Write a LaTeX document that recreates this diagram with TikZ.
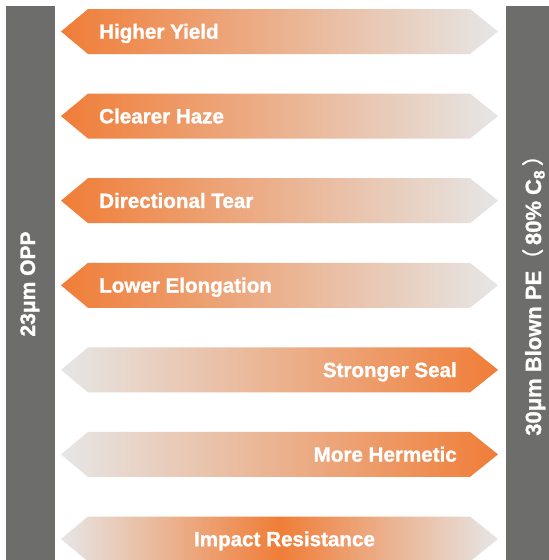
\documentclass[tikz,border=0pt]{standalone}
\usepackage{fontspec}
\setmainfont{Liberation Sans}
\newfontfamily\heavy[FakeBold=1.2]{Liberation Sans Bold}
\newfontfamily\cjk[FakeBold=1.2]{Noto Sans CJK SC}
\definecolor{orangeC}{RGB}{240,125,55}
\definecolor{fadeG}{RGB}{230,230,230}
\definecolor{barG}{RGB}{109,110,108}
\newcommand\hexrow[1]{(61,#1) -- (88,#1-22.5) -- (470,#1-22.5) -- (498,#1) -- (470,#1+22.5) -- (88,#1+22.5) -- cycle}
\begin{document}
\begin{tikzpicture}[x=1pt,y=-1pt,
 bar/.style={fill=barG,draw=none,inner sep=0pt},
 toleft/.style={left color=orangeC,right color=fadeG,draw=none},
 toright/.style={left color=fadeG,right color=orangeC,draw=none},
 tomid/.style={left color=fadeG,right color=fadeG,middle color=orangeC,draw=none},
 lbl/.style={text=white,font=\fontsize{20.6}{24}\selectfont\heavy,inner sep=0pt},
 vlbl/.style={text=white,inner sep=0pt,rotate=90,anchor=base}]
\useasboundingbox (0,0) rectangle (549,560);
\fill[white] (0,0) rectangle (549,560);
% side bars
\node[bar,minimum width=49,minimum height=560,anchor=north west] (lbar) at (6,6) {};
\node[bar,minimum width=43,minimum height=560,anchor=north west] (rbar) at (506,6) {};
\node[vlbl,font=\fontsize{21}{24}\selectfont\heavy] (ltxt) at (35,284) {23μm OPP};
\node[vlbl,font=\fontsize{22}{26}\selectfont\heavy] (rtxt) at (541,290) {30μm Blown PE{\cjk （}\,80\% C\textsubscript{8}\,{\cjk ）}};
% arrows
\path[toleft] \hexrow{31.5};
\path[toleft] \hexrow{116.1};
\path[toleft] \hexrow{200.7};
\path[toleft] \hexrow{285.3};
\path[toright] \hexrow{369.9};
\path[toright] \hexrow{454.4};
\path[tomid] \hexrow{539};
% labels
\node[lbl,anchor=base west] (t1) at (99,38.7) {Higher Yield};
\node[lbl,anchor=base west] (t2) at (99,123.3) {Clearer Haze};
\node[lbl,anchor=base west] (t3) at (99,207.9) {Directional Tear};
\node[lbl,anchor=base west] (t4) at (99,292.5) {Lower Elongation};
\node[lbl,anchor=base east] (t5) at (457,377.1) {Stronger Seal};
\node[lbl,anchor=base east] (t6) at (457,461.6) {More Hermetic};
\node[lbl,anchor=base] (t7) at (284.5,546.2) {Impact Resistance};
\end{tikzpicture}
\end{document}
